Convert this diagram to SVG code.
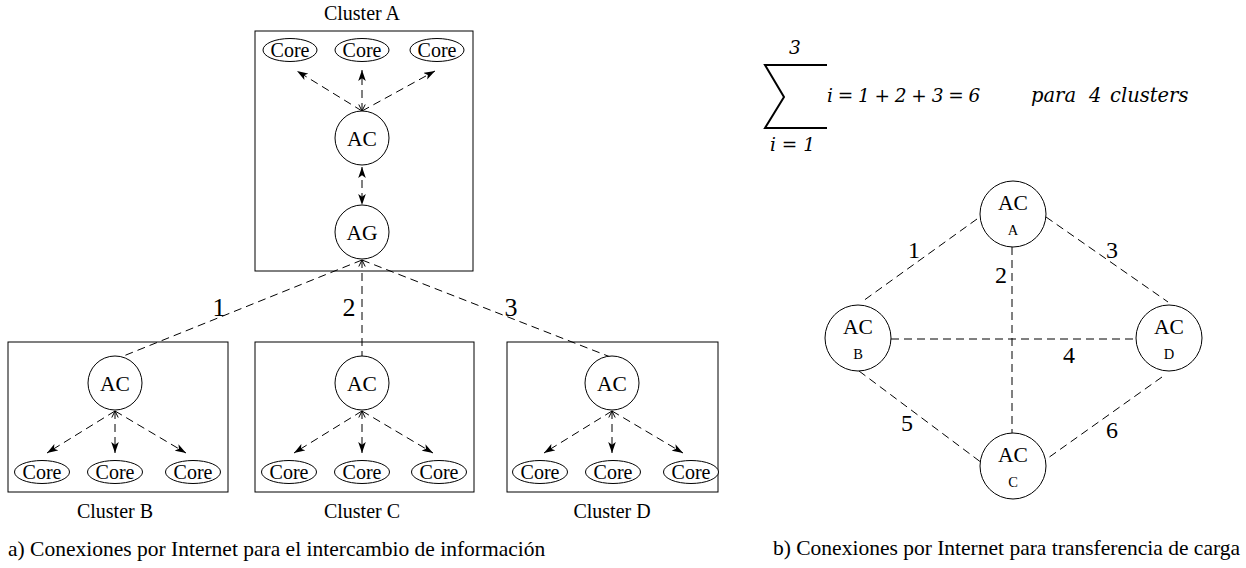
<svg xmlns="http://www.w3.org/2000/svg" width="1246" height="568" viewBox="0 0 1246 568" font-family="'Liberation Serif', 'Times New Roman', serif">
  <style>
    .box { fill: none; stroke: #000; stroke-width: 1; }
    .node { fill: #fff; stroke: #000; stroke-width: 1; }
    .dash { fill: none; stroke: #000; stroke-width: 1; stroke-dasharray: 8 5; }
    .sigma { fill: none; stroke: #000; stroke-width: 2; }
    text { fill: #000; text-anchor: middle; }
    .lbl { font-size: 20px; }
    .core { font-size: 20px; }
    .ac { font-size: 21.5px; }
    .sub { font-size: 14.5px; }
    .num { font-size: 24px; }
    .num-a { font-size: 26px; }
    .cap { font-size: 21.5px; text-anchor: start; }
    .math { font-style: italic; font-size: 18.5px; text-anchor: start; }
  </style>
  <defs>
    <marker id="fill" markerUnits="userSpaceOnUse" viewBox="0 0 11 8" markerWidth="11" markerHeight="8" refX="11" refY="4" orient="auto-start-reverse">
      <path d="M0,0.2 L11,4 L0,7.8 L2.8,4 z" fill="#000" stroke="none"/>
    </marker>
    <marker id="open" markerUnits="userSpaceOnUse" viewBox="0 0 8 8" markerWidth="8" markerHeight="8" refX="7" refY="4" orient="auto-start-reverse">
      <path d="M0.5,0.8 L7,4 L0.5,7.2" fill="none" stroke="#000" stroke-width="1" stroke-dasharray="none"/>
    </marker>
  </defs>

  <!-- (a) cluster frames -->
  <g id="cluster-a">
    <rect class="box" x="255" y="31" width="218" height="240"/>
    <text class="lbl" x="362" y="20">Cluster A</text>
  </g>
  <g id="cluster-b">
    <rect class="box" x="8" y="342" width="220" height="150"/>
    <text class="lbl" x="115" y="518">Cluster B</text>
  </g>
  <g id="cluster-c">
    <rect class="box" x="255" y="342" width="219" height="150"/>
    <text class="lbl" x="362" y="518">Cluster C</text>
  </g>
  <g id="cluster-d">
    <rect class="box" x="507" y="342" width="211" height="150"/>
    <text class="lbl" x="612" y="518">Cluster D</text>
  </g>

  <!-- (a) connectors -->
  <g id="connectors-a">
    <!-- inside cluster A -->
    <line class="dash" x1="362" y1="111" x2="297" y2="71" marker-end="url(#fill)"/>
    <line class="dash" x1="362" y1="111" x2="362" y2="70" marker-start="url(#open)" marker-end="url(#fill)"/>
    <line class="dash" x1="362" y1="111" x2="435" y2="71" marker-end="url(#fill)"/>
    <line class="dash" x1="362" y1="167" x2="362" y2="205" marker-start="url(#fill)" marker-end="url(#fill)"/>
    <!-- AG to the other clusters -->
    <line class="dash" x1="362" y1="260" x2="121" y2="357"/>
    <line class="dash" x1="362" y1="260" x2="362" y2="357" marker-start="url(#open)"/>
    <line class="dash" x1="362" y1="260" x2="613" y2="358"/>
    <!-- inside cluster B -->
    <line class="dash" x1="115" y1="411" x2="47" y2="453" marker-end="url(#fill)"/>
    <line class="dash" x1="115" y1="411" x2="115" y2="453" marker-start="url(#open)" marker-end="url(#fill)"/>
    <line class="dash" x1="115" y1="411" x2="186" y2="453" marker-end="url(#fill)"/>
    <!-- inside cluster C -->
    <line class="dash" x1="362" y1="411" x2="294" y2="453" marker-end="url(#fill)"/>
    <line class="dash" x1="362" y1="411" x2="362" y2="453" marker-start="url(#open)" marker-end="url(#fill)"/>
    <line class="dash" x1="362" y1="411" x2="433" y2="453" marker-end="url(#fill)"/>
    <!-- inside cluster D -->
    <line class="dash" x1="612" y1="411" x2="544" y2="453" marker-end="url(#fill)"/>
    <line class="dash" x1="612" y1="411" x2="612" y2="453" marker-start="url(#open)" marker-end="url(#fill)"/>
    <line class="dash" x1="612" y1="411" x2="683" y2="453" marker-end="url(#fill)"/>
  </g>
  <g id="labels-a">
    <text class="num-a" x="219" y="316">1</text>
    <text class="num-a" x="349" y="316">2</text>
    <text class="num-a" x="511" y="316">3</text>
  </g>

  <!-- (a) nodes -->
  <g id="a-core1"><ellipse class="node" cx="290" cy="50" rx="27" ry="11.5"/><text class="core" x="290" y="56.5">Core</text></g>
  <g id="a-core2"><ellipse class="node" cx="362" cy="50" rx="27" ry="11.5"/><text class="core" x="362" y="56.5">Core</text></g>
  <g id="a-core3"><ellipse class="node" cx="437" cy="50" rx="27" ry="11.5"/><text class="core" x="437" y="56.5">Core</text></g>
  <g id="a-ac"><circle class="node" cx="362" cy="138" r="27"/><text class="ac" x="362" y="145.5">AC</text></g>
  <g id="a-ag"><circle class="node" cx="362" cy="232" r="27"/><text class="ac" x="362" y="240">AG</text></g>

  <g id="b-ac"><circle class="node" cx="115" cy="383" r="27"/><text class="ac" x="115" y="390.5">AC</text></g>
  <g id="b-core1"><ellipse class="node" cx="42" cy="472" rx="27.5" ry="11.5"/><text class="core" x="42" y="478.5">Core</text></g>
  <g id="b-core2"><ellipse class="node" cx="115" cy="472" rx="27.5" ry="11.5"/><text class="core" x="115" y="478.5">Core</text></g>
  <g id="b-core3"><ellipse class="node" cx="193" cy="472" rx="27.5" ry="11.5"/><text class="core" x="193" y="478.5">Core</text></g>

  <g id="c-ac"><circle class="node" cx="362" cy="383" r="27"/><text class="ac" x="362" y="390.5">AC</text></g>
  <g id="c-core1"><ellipse class="node" cx="289" cy="472" rx="27.5" ry="11.5"/><text class="core" x="289" y="478.5">Core</text></g>
  <g id="c-core2"><ellipse class="node" cx="362" cy="472" rx="27.5" ry="11.5"/><text class="core" x="362" y="478.5">Core</text></g>
  <g id="c-core3"><ellipse class="node" cx="439" cy="472" rx="27.5" ry="11.5"/><text class="core" x="439" y="478.5">Core</text></g>

  <g id="d-ac"><circle class="node" cx="612" cy="383" r="27"/><text class="ac" x="612" y="390.5">AC</text></g>
  <g id="d-core1"><ellipse class="node" cx="540" cy="472" rx="27.5" ry="11.5"/><text class="core" x="540" y="478.5">Core</text></g>
  <g id="d-core2"><ellipse class="node" cx="613" cy="472" rx="27.5" ry="11.5"/><text class="core" x="613" y="478.5">Core</text></g>
  <g id="d-core3"><ellipse class="node" cx="691" cy="472" rx="27.5" ry="11.5"/><text class="core" x="691" y="478.5">Core</text></g>

  <!-- (b) summation formula -->
  <g id="formula" font-family="'DejaVu Serif', serif">
    <polyline class="sigma" points="827,65 765,65 784,97 765,128 827,128"/>
    <text class="math" x="795" y="54" style="text-anchor:middle">3</text>
    <text class="math" x="827" y="102" style="word-spacing:-1.1px">i = 1 + 2 + 3 = 6</text>
    <text class="math" x="770" y="151">i = 1</text>
    <text class="math" x="1031" y="102" style="font-size:19.5px">para</text>
    <text class="math" x="1089" y="102" style="font-size:19.5px">4</text>
    <text class="math" x="1110" y="102" style="font-size:19.5px">clusters</text>
  </g>

  <!-- (b) connectors -->
  <g id="connectors-b">
    <line class="dash" x1="977" y1="219" x2="863" y2="301"/>
    <line class="dash" x1="1012" y1="247" x2="1012" y2="433"/>
    <line class="dash" x1="1046" y1="217" x2="1168" y2="302"/>
    <line class="dash" x1="891" y1="339" x2="1137" y2="339"/>
    <line class="dash" x1="859" y1="371" x2="982" y2="463"/>
    <line class="dash" x1="1162" y1="377" x2="1048" y2="458"/>
  </g>
  <g id="labels-b">
    <text class="num" x="914" y="258">1</text>
    <text class="num" x="1001" y="283">2</text>
    <text class="num" x="1112" y="258">3</text>
    <text class="num" x="1069" y="363">4</text>
    <text class="num" x="907" y="431">5</text>
    <text class="num" x="1112" y="438">6</text>
  </g>

  <!-- (b) nodes -->
  <g id="ac-a"><circle class="node" cx="1013" cy="214" r="33"/><text class="ac" x="1013" y="210">AC</text><text class="sub" x="1013" y="235">A</text></g>
  <g id="ac-b"><circle class="node" cx="858" cy="338" r="33"/><text class="ac" x="858" y="334">AC</text><text class="sub" x="858" y="359">B</text></g>
  <g id="ac-d"><circle class="node" cx="1169" cy="338" r="33"/><text class="ac" x="1169" y="334">AC</text><text class="sub" x="1169" y="359">D</text></g>
  <g id="ac-c"><circle class="node" cx="1013" cy="466" r="33"/><text class="ac" x="1013" y="462">AC</text><text class="sub" x="1013" y="487">C</text></g>

  <!-- captions -->
  <text class="cap" x="8" y="556">a) Conexiones por Internet para el intercambio de información</text>
  <text class="cap" x="1240" y="555" style="text-anchor:end">b) Conexiones por Internet para transferencia de carga</text>
</svg>
